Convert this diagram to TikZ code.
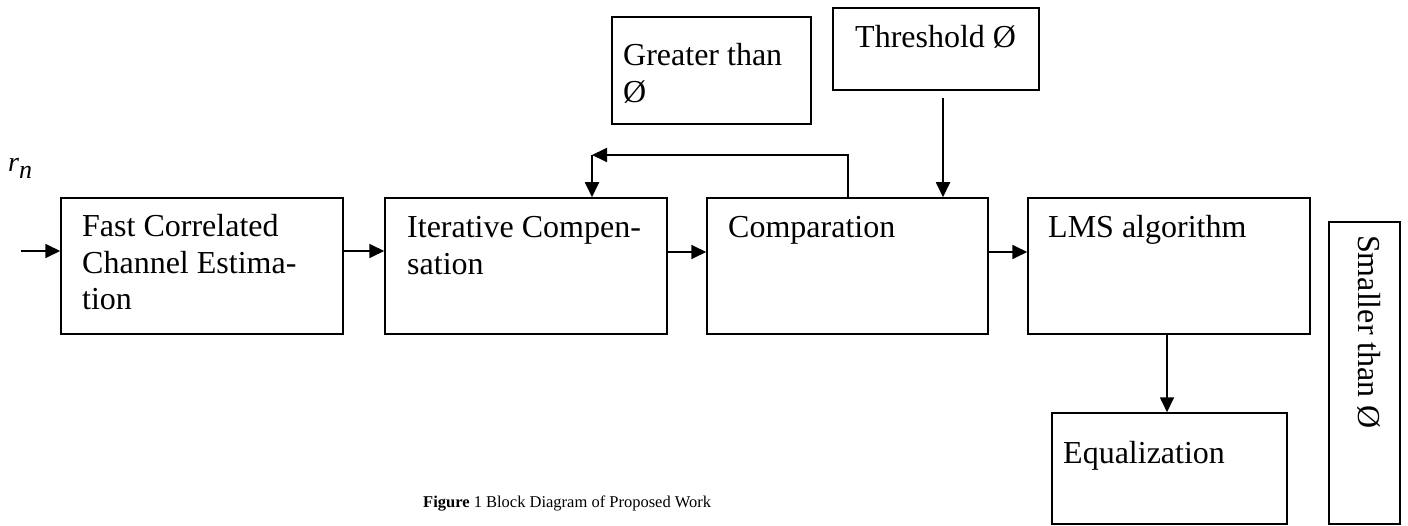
\documentclass[tikz,border=0pt]{standalone}
\usepackage{fontspec}
\setmainfont{Liberation Serif}
\usetikzlibrary{arrows.meta}
\begin{document}
\begin{tikzpicture}[x=1pt,y=-1pt,
  blk/.style={draw,line width=1.5pt,inner sep=0pt},
  txt/.style={anchor=base west,inner sep=0pt,font=\fontsize{32}{36.5}\selectfont,align=left},
  arr/.style={line width=1.8pt,-{Triangle[length=15pt,width=14pt]}},
  ln/.style={line width=1.8pt}]
\useasboundingbox (0,0) rectangle (1408,526);
% boxes
\node[blk,minimum width=282pt,minimum height=136pt] (b1) at (202,266) {};
\node[blk,minimum width=282pt,minimum height=136pt] (b2) at (526,266) {};
\node[blk,minimum width=281pt,minimum height=136pt] (b3) at (847.5,266) {};
\node[blk,minimum width=282pt,minimum height=136pt] (b4) at (1169,266) {};
\node[blk,minimum width=235pt,minimum height=111pt] (eq) at (1169.5,468.5) {};
\node[blk,minimum width=199pt,minimum height=107pt] (gt) at (711.5,70.5) {};
\node[blk,minimum width=206pt,minimum height=82pt] (th) at (936,49) {};
\node[blk,minimum width=71pt,minimum height=302pt] (sm) at (1364.5,373) {};
% texts (base anchor of a multi-line node = baseline of its last line)
\node[txt] (t1) at (82,310) {Fast Correlated\\Channel Estima-\\tion};
\node[txt] (t2) at (407,274.5) {Iterative Compen-\\sation};
\node[txt] (t3) at (728,238) {Comparation};
\node[txt] (t4) at (1048,238) {LMS algorithm};
\node[txt] (t5) at (1063,463) {Equalization};
\node[txt] (t6) at (623,102.5) {Greater than\\Ø};
\node[txt] (t7) at (855,48) {Threshold Ø};
\node[txt,rotate=-90] (t8) at (1358,235) {Smaller than Ø};
\node[anchor=base west,inner sep=0pt,font=\fontsize{28}{30}\selectfont\itshape] (rn) at (8,172) {r\raisebox{-7pt}{\fontsize{26}{26}\selectfont n}};
\node[anchor=base west,inner sep=0pt,font=\fontsize{16.5}{18}\selectfont] (cap) at (423,507) {\textbf{Figure} 1 Block Diagram of Proposed Work};
% connectors
\coordinate (in) at (21,251);
\coordinate (ya) at (0,251);
\coordinate (yb) at (0,252);
\draw[arr] (in) -- (b1.west |- in);
\draw[arr] (b1.east |- ya) -- (b2.west |- ya);
\draw[arr] (b2.east |- yb) -- (b3.west |- yb);
\draw[arr] (b3.east |- yb) -- (b4.west |- yb);
\coordinate (fbs) at (848,198);
\coordinate (fb) at (592,155);
\draw[arr] (fbs) |- (fb);
\draw[arr] (fb) -- (fb |- b2.north);
\coordinate (tt) at (943,98);
\draw[arr] (tt) -- (tt |- b3.north);
\coordinate (xe) at (1167,0);
\draw[arr] (xe |- b4.south) -- (xe |- eq.north);
\end{tikzpicture}
\end{document}
